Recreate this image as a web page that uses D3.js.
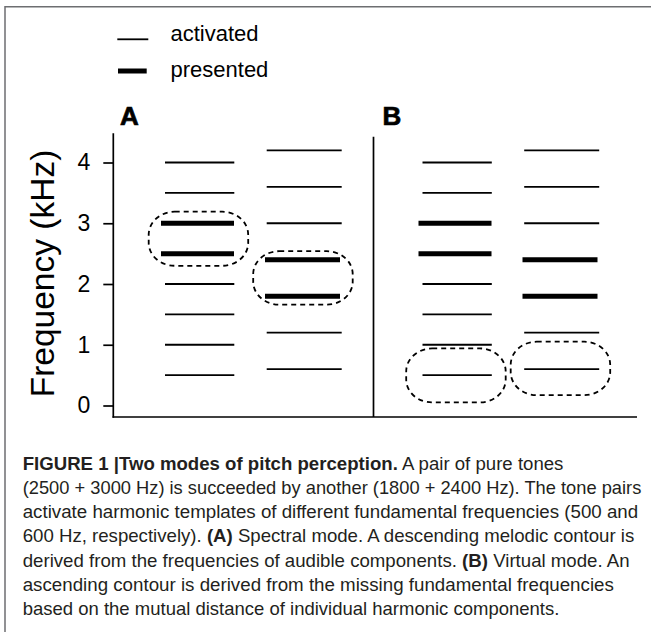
<!DOCTYPE html>
<html>
<head>
<meta charset="utf-8">
<script src="https://cdn.jsdelivr.net/npm/d3@7"></script>
<style>
  html, body { margin: 0; padding: 0; background: #fff; }
  svg { display: block; }
</style>
</head>
<body>
<svg id="chart" width="651" height="632"></svg>
<script>
// ---------------- DATA ----------------
const panels = ["A", "B"];
const fundamentals = [500, 600];                       // Hz, one column each
const harmonics500 = [0.5, 1, 1.5, 2, 2.5, 3, 3.5, 4]; // kHz (activated template)
const harmonics600 = [0.6, 1.2, 1.8, 2.4, 3.0, 3.6, 4.2];
const presented500 = [2.5, 3.0];                        // kHz (pure tones presented)
const presented600 = [1.8, 2.4];
// dashed groupings: [panel, fundamental, low kHz, high kHz]
const groupPanel = ["A", "A", "B", "B"];
const groupFund  = [500, 600, 500, 600];
const groupLow   = [2.30, 1.66, 0.05, 0.17];
const groupHigh  = [3.19, 2.54, 0.94, 1.05];
const yTicks = [0, 1, 2, 3, 4];
const yLabel = "Frequency (kHz)";
const legendLabels = ["activated", "presented"];
const captionLines = [
  [["FIGURE 1 |Two modes of pitch perception.", true], [" A pair of pure tones", false]],
  [["(2500 + 3000 Hz) is succeeded by another (1800 + 2400 Hz). The tone pairs", false]],
  [["activate harmonic templates of different fundamental frequencies (500 and", false]],
  [["600 Hz, respectively). ", false], ["(A)", true], [" Spectral mode. A descending melodic contour is", false]],
  [["derived from the frequencies of audible components. ", false], ["(B)", true], [" Virtual mode. An", false]],
  [["ascending contour is derived from the missing fundamental frequencies", false]],
  [["based on the mutual distance of individual harmonic components.", false]]
];
const captionWidths = [541, 619, 616, 612, 607, 592, 537];

// ---------------- LAYOUT ----------------
const FONT = "'Liberation Sans', Arial, Helvetica, sans-serif";
const svg = d3.select("#chart");
const harmonics = {500: harmonics500, 600: harmonics600};
const presented = {500: presented500, 600: presented600};

const y = d3.scaleLinear().domain([0, 4]).range([405.5, 162.5]);
const xPanel = d3.scaleBand().domain(panels).range([113, 628]);
const xCol = d3.scaleLinear().domain([500, 600]).range([86.7, 191.2]);
const cx = (p, f) => xPanel(p) + xCol(f);
const thinExt = {500: [-34.7, 34.6], 600: [-37.5, 37.5]};
const thickExt = {500: [-38.7, 34.3], 600: [-39.2, 35.8]};

// frame
svg.append("path")
  .attr("d", "M5,632 V6.7 H651")
  .attr("fill", "none").attr("stroke", "#6d6e71").attr("stroke-width", 1.5);

// legend
const lg = svg.append("g");
lg.append("line").attr("x1", 117.3).attr("x2", 148.3).attr("y1", 39.3).attr("y2", 39.3)
  .attr("stroke", "#000").attr("stroke-width", 1.8);
lg.append("line").attr("x1", 118).attr("x2", 146.7).attr("y1", 71).attr("y2", 71)
  .attr("stroke", "#000").attr("stroke-width", 5);
lg.selectAll("text.leg").data(legendLabels).join("text")
  .attr("class", "leg")
  .attr("x", 170.5).attr("y", (d, i) => i === 0 ? 40.5 : 77)
  .attr("font-family", FONT).attr("font-size", 22).attr("fill", "#000")
  .text(d => d);

// panel letters
svg.selectAll("text.panel").data(panels).join("text")
  .attr("class", "panel")
  .attr("x", d => d === "A" ? 120 : 382.5).attr("y", 125)
  .attr("font-family", FONT).attr("font-weight", "bold").attr("font-size", 26)
  .attr("fill", "#000").attr("stroke", "#000").attr("stroke-width", 0.7)
  .text(d => d);

// axes frame
svg.append("line").attr("x1", 113.3).attr("x2", 113.3).attr("y1", 133.3).attr("y2", 417.8)
  .attr("stroke", "#000").attr("stroke-width", 1.7);
svg.append("line").attr("x1", 112.5).attr("x2", 637).attr("y1", 417).attr("y2", 417)
  .attr("stroke", "#000").attr("stroke-width", 1.7);
svg.append("line").attr("x1", 373.5).attr("x2", 373.5).attr("y1", 136.7).attr("y2", 417)
  .attr("stroke", "#000").attr("stroke-width", 1.7);

const yAxis = d3.axisLeft(y).tickValues(yTicks).tickSize(10).tickPadding(13).tickFormat(d3.format("d"));
const ga = svg.append("g").attr("transform", "translate(113.3,0)").call(yAxis);
ga.select(".domain").remove();
ga.selectAll(".tick line").attr("stroke", "#000").attr("stroke-width", 1.7);
ga.selectAll(".tick text").attr("font-family", FONT).attr("font-size", 23).attr("fill", "#000");

svg.append("text")
  .attr("transform", "translate(53.5,273.5) rotate(-90)")
  .attr("text-anchor", "middle")
  .attr("font-family", FONT).attr("font-size", 33.5).attr("fill", "#000")
  .text(yLabel);

// harmonic lines
const lineData = [];
panels.forEach(p => fundamentals.forEach(f => {
  harmonics[f].forEach(h => {
    const thick = presented[f].includes(h);
    lineData.push({p, f, h, thick});
  });
}));
svg.append("g").selectAll("line").data(lineData).join("line")
  .attr("x1", d => cx(d.p, d.f) + (d.thick ? thickExt : thinExt)[d.f][0])
  .attr("x2", d => cx(d.p, d.f) + (d.thick ? thickExt : thinExt)[d.f][1])
  .attr("y1", d => y(d.h)).attr("y2", d => y(d.h))
  .attr("stroke", "#000")
  .attr("stroke-width", d => d.thick ? 5 : 1.8);

// dashed groupings
const groups = groupPanel.map((p, i) => ({p, f: groupFund[i], lo: groupLow[i], hi: groupHigh[i]}));
svg.append("g").selectAll("rect").data(groups).join("rect")
  .attr("x", d => cx(d.p, d.f) - 51)
  .attr("width", 99.5)
  .attr("y", d => y(d.hi))
  .attr("height", d => y(d.lo) - y(d.hi))
  .attr("rx", 26).attr("ry", 23)
  .attr("fill", "none").attr("stroke", "#000").attr("stroke-width", 1.8)
  .attr("stroke-dasharray", "5,4");

// caption
const cap = svg.append("g");
captionLines.forEach((segs, i) => {
  const t = cap.append("text")
    .attr("font-family", FONT).attr("font-size", 17.5).attr("fill", "#231f20")
    .attr("x", 0).attr("y", 0)
    .style("white-space", "pre");
  segs.forEach(([s, b]) => {
    t.append("tspan").attr("font-weight", b ? "bold" : "normal").text(s);
  });
  const w = t.node().getComputedTextLength();
  const sx = captionWidths[i] / w;
  t.attr("transform", `translate(22.7,${469.5 + i * 24.25}) scale(${sx},1)`);
});
</script>
</body>
</html>
